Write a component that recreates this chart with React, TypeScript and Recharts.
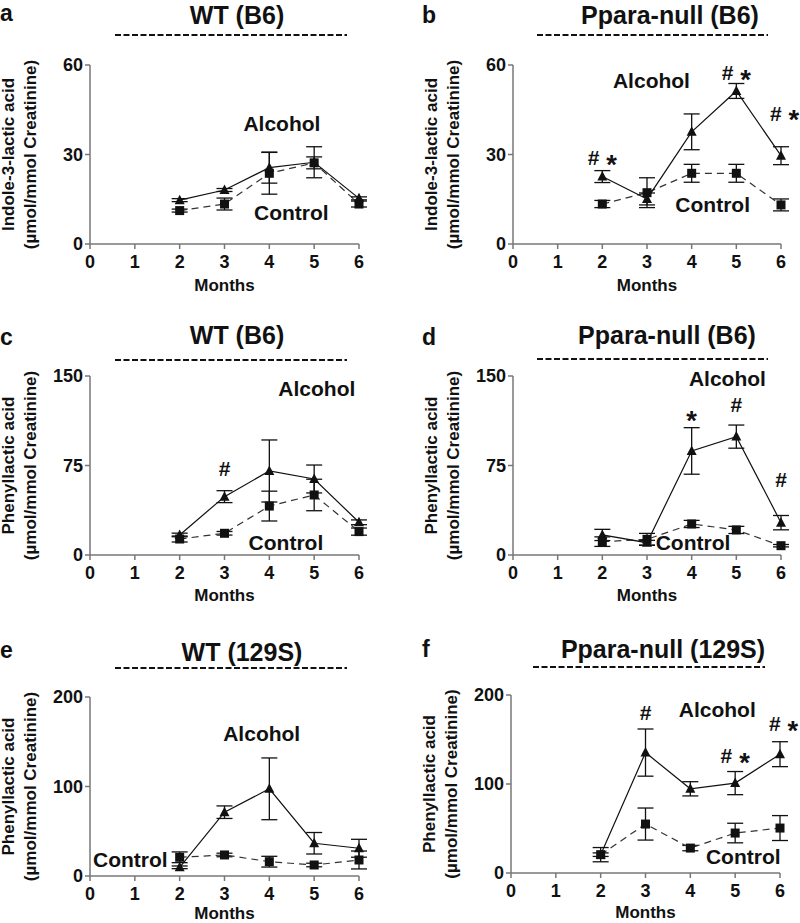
import { LineChart, Line, XAxis, YAxis, ErrorBar, ReferenceDot } from 'recharts';

const FONT = '"Liberation Sans", Arial, Helvetica, sans-serif';
const INK = '#111';
const AXIS = '#777';

const months = [2, 3, 4, 5, 6];
const monthTicks = [0, 1, 2, 3, 4, 5, 6];

// a - WT (B6), indole-3-lactic acid
const aAlcohol = [14.7, 18.1, 25.6, 27.4, 15.3];
const aAlcoholErr = [0.5, 0.5, 5.2, 5.2, 0.5];
const aControl = [11.2, 13.4, 23.7, 27.2, 13.4];
const aControlErr = [0.5, 2.0, 7.0, 2.0, 1.0];
const aMarks: Mark[] = [];
const aLabels: Mark[] = [{ m: 4.28, v: 40.5, text: 'Alcohol' }, { m: 4.49, v: 10.8, text: 'Control' }];

// b - Ppara-null (B6), indole-3-lactic acid
const bAlcohol = [22.6, 15.1, 37.6, 51.3, 29.6];
const bAlcoholErr = [2.0, 2.0, 6.0, 2.5, 3.0];
const bControl = [13.4, 17.2, 23.7, 23.7, 13.1];
const bControlErr = [1.2, 5.0, 3.0, 3.0, 2.0];
const bMarks: Mark[] = [{ m: 2, v: 29, text: '# *' }, { m: 5, v: 57.5, text: '# *' }, { m: 6.08, v: 44, text: '# *' }];
const bLabels: Mark[] = [{ m: 3.1, v: 55, text: 'Alcohol' }, { m: 4.47, v: 13.4, text: 'Control' }];

// c - WT (B6), phenyllactic acid
const cAlcohol = [16.8, 48.9, 70.4, 63.7, 27.4];
const cAlcoholErr = [1.5, 5.0, 26.0, 11.7, 2.0];
const cControl = [13.4, 18.2, 41.0, 50.3, 19.6];
const cControlErr = [2.5, 1.5, 12.5, 13.2, 3.0];
const cMarks: Mark[] = [{ m: 3, v: 72.6, text: '#' }];
const cLabels: Mark[] = [{ m: 5.06, v: 139.7, text: 'Alcohol' }, { m: 4.37, v: 10.6, text: 'Control' }];

// d - Ppara-null (B6), phenyllactic acid
const dAlcohol = [16.8, 10.3, 87.2, 99.2, 27.1];
const dAlcoholErr = [4.7, 2.0, 19.5, 9.7, 6.0];
const dControl = [11.2, 13.1, 26.0, 21.0, 7.8];
const dControlErr = [4.0, 5.0, 3.0, 3.0, 1.0];
const dMarks: Mark[] = [{ m: 4, v: 118.7, text: '*' }, { m: 5, v: 126.5, text: '#' }, { m: 6, v: 63.4, text: '#' }];
const dLabels: Mark[] = [{ m: 4.8, v: 148.6, text: 'Alcohol' }, { m: 4.03, v: 11.2, text: 'Control' }];

// e - WT (129S), phenyllactic acid
const eAlcohol = [9.7, 71.3, 97.4, 36.6, 31.0];
const eAlcoholErr = [1.5, 7.0, 34.5, 12.0, 10.0];
const eControl = [20.9, 23.5, 16.0, 12.3, 17.9];
const eControlErr = [6.0, 2.0, 6.0, 2.0, 10.0];
const eMarks: Mark[] = [];
const eLabels: Mark[] = [{ m: 3.83, v: 159.7, text: 'Alcohol' }, { m: 0.9, v: 18.7, text: 'Control' }];

// f - Ppara-null (129S), phenyllactic acid
const fAlcohol = [20.6, 135.3, 94.6, 101.0, 133.5];
const fAlcoholErr = [2.0, 26.5, 8.0, 13.0, 14.0];
const fControl = [20.6, 55.0, 28.0, 44.9, 50.5];
const fControlErr = [8.0, 18.0, 3.0, 11.0, 14.0];
const fMarks: Mark[] = [{ m: 3, v: 181, text: '#' }, { m: 5, v: 132.7, text: '# *' }, { m: 6.08, v: 168, text: '# *' }];
const fLabels: Mark[] = [{ m: 4.6, v: 183.9, text: 'Alcohol' }, { m: 5.18, v: 18.7, text: 'Control' }];

const indoleLabel = ['Indole-3-lactic acid', '(\u00b5mol/mmol Creatinine)'];
const phenylLabel = ['Phenyllactic acid', '(\u00b5mol/mmol Creatinine)'];

type Mark = { m: number; v: number; text: string };

const rows = (alc: number[], alcErr: number[], ctl: number[], ctlErr: number[]) =>
  months.map((m, i) => ({ month: m, alc: alc[i], alcErr: alcErr[i], ctl: ctl[i], ctlErr: ctlErr[i] }));

const panels = [
  {
    id: 'a', title: 'WT (B6)', left: 0, top: 0, height: 300, plot: [90, 359, 65, 244], monthsDy: 41,
    letter: [0, 13], titlePos: [237, 15], dash: [115, 347, 35],
    yLines: indoleLabel, yTicks: [0, 30, 60],
    data: rows(aAlcohol, aAlcoholErr, aControl, aControlErr), marks: aMarks, labels: aLabels,
  },
  {
    id: 'b', title: 'Ppara-null (B6)', left: 400, top: 0, height: 300, plot: [113, 381, 65, 244], monthsDy: 41,
    letter: [22, 15], titlePos: [270, 15], dash: [137, 368, 35],
    yLines: indoleLabel, yTicks: [0, 30, 60],
    data: rows(bAlcohol, bAlcoholErr, bControl, bControlErr), marks: bMarks, labels: bLabels,
  },
  {
    id: 'c', title: 'WT (B6)', left: 0, top: 300, height: 310, plot: [90, 359, 76, 255], monthsDy: 40,
    letter: [0, 37], titlePos: [237, 35], dash: [115, 347, 60],
    yLines: phenylLabel, yTicks: [0, 75, 150],
    data: rows(cAlcohol, cAlcoholErr, cControl, cControlErr), marks: cMarks, labels: cLabels,
  },
  {
    id: 'd', title: 'Ppara-null (B6)', left: 400, top: 300, height: 310, plot: [113, 381, 76, 255], monthsDy: 40,
    letter: [22, 37], titlePos: [267, 35], dash: [137, 368, 59],
    yLines: phenylLabel, yTicks: [0, 75, 150],
    data: rows(dAlcohol, dAlcoholErr, dControl, dControlErr), marks: dMarks, labels: dLabels,
  },
  {
    id: 'e', title: 'WT (129S)', left: 0, top: 610, height: 313, plot: [90, 359, 87, 266], monthsDy: 37,
    letter: [0, 40], titlePos: [242, 42], dash: [115, 347, 58],
    yLines: phenylLabel, yTicks: [0, 100, 200],
    data: rows(eAlcohol, eAlcoholErr, eControl, eControlErr), marks: eMarks, labels: eLabels,
  },
  {
    id: 'f', title: 'Ppara-null (129S)', left: 400, top: 610, height: 313, plot: [111, 380, 85, 263], monthsDy: 39,
    letter: [22, 39], titlePos: [263, 39], dash: [133, 365, 57],
    yLines: phenylLabel, yTicks: [0, 100, 200],
    data: rows(fAlcohol, fAlcoholErr, fControl, fControlErr), marks: fMarks, labels: fLabels,
  },
];

const Triangle = (p: any) => {
  const { cx, cy, index } = p;
  if (cx == null || cy == null) return <g key={`t${index}`} />;
  return <path key={`t${index}`} d={`M${cx},${cy - 5.5}L${cx + 5},${cy + 4}L${cx - 5},${cy + 4}Z`} fill={INK} />;
};

const Square = (p: any) => {
  const { cx, cy, index } = p;
  if (cx == null || cy == null) return <g key={`s${index}`} />;
  return <rect key={`s${index}`} x={cx - 4.5} y={cy - 4.5} width={9} height={9} fill={INK} />;
};

// text placed at a data position; asterisks are dropped to sit level with '#'
const TextMark = ({ cx, cy, text, size }: { cx: number; cy: number; text: string; size: number }) => {
  const parts = text.split(' ');
  return (
    <text x={cx} y={cy} textAnchor="middle" dominantBaseline="central" fill={INK}
      fontFamily={FONT} fontWeight="bold" fontSize={size}>
      {parts.map((t, i) =>
        t === '*' ? (
          <tspan key={i} dx={i > 0 ? 7 : 0} dy={size * 0.32} fontSize={size * 1.3}>*</tspan>
        ) : (
          <tspan key={i} dx={i > 0 ? 7 : 0}>{t}</tspan>
        )
      )}
    </text>
  );
};

const yLabel = (lines: string[]) => (props: any) => {
  const vb = props.viewBox || {};
  const right = vb.x + vb.width;
  const cy = vb.y + vb.height / 2;
  return (
    <g>
      {lines.map((l, i) => {
        const x = right - 82 + i * 22;
        return (
          <text key={i} x={x} y={cy} transform={`rotate(-90 ${x} ${cy})`} textAnchor="middle"
            dominantBaseline="central" fill={INK} fontFamily={FONT} fontWeight="bold" fontSize={17}>
            {l}
          </text>
        );
      })}
    </g>
  );
};

const xLabel = (dy: number) => (props: any) => {
  const vb = props.viewBox || {};
  return (
    <text x={vb.x + vb.width / 2} y={vb.y + dy} textAnchor="middle" dominantBaseline="central"
      fill={INK} fontFamily={FONT} fontWeight="bold" fontSize={17}>
      Months
    </text>
  );
};

const tickStyle = { fill: INK, fontFamily: FONT, fontWeight: 'bold', fontSize: 18 } as any;

function Panel({ p }: { p: (typeof panels)[number] }) {
  const [pl, pr, pt, pb] = p.plot;
  const yAxisW = 40;
  const xAxisH = 46;
  const yMax = p.yTicks[p.yTicks.length - 1];
  return (
    <div style={{ position: 'absolute', left: p.left, top: p.top, width: 400, height: p.height }}>
      <LineChart
        width={400}
        height={p.height}
        data={p.data}
        margin={{ top: pt, bottom: p.height - pb - xAxisH, left: pl - yAxisW, right: 400 - pr }}
      >
        <XAxis
          dataKey="month"
          type="number"
          domain={[0, 6]}
          ticks={monthTicks}
          height={xAxisH}
          stroke={AXIS}
          strokeWidth={1.5}
          tickSize={5}
          tickMargin={6}
          tick={tickStyle}
          label={{ content: xLabel(p.monthsDy) }}
        />
        <YAxis
          type="number"
          domain={[0, yMax]}
          ticks={p.yTicks}
          width={yAxisW}
          stroke={AXIS}
          strokeWidth={1.5}
          tickSize={5}
          tickMargin={2}
          tick={tickStyle}
          label={{ content: yLabel(p.yLines) }}
        />
        <Line
          dataKey="ctl"
          stroke="#333"
          strokeWidth={1.2}
          strokeDasharray="7 5"
          dot={Square}
          activeDot={false}
          isAnimationActive={false}
        >
          <ErrorBar dataKey="ctlErr" width={8} stroke={INK} strokeWidth={1.3} direction="y" isAnimationActive={false} />
        </Line>
        <Line
          dataKey="alc"
          stroke={INK}
          strokeWidth={1.2}
          dot={Triangle}
          activeDot={false}
          isAnimationActive={false}
        >
          <ErrorBar dataKey="alcErr" width={8} stroke={INK} strokeWidth={1.3} direction="y" isAnimationActive={false} />
        </Line>
        {p.labels.map((m, i) => (
          <ReferenceDot key={`l${i}`} x={m.m} y={m.v} r={0} ifOverflow="visible"
            shape={(sp: any) => <TextMark cx={sp.cx} cy={sp.cy} text={m.text} size={21} />} />
        ))}
        {p.marks.map((m, i) => (
          <ReferenceDot key={`m${i}`} x={m.m} y={m.v} r={0} ifOverflow="visible"
            shape={(sp: any) => <TextMark cx={sp.cx} cy={sp.cy} text={m.text} size={21} />} />
        ))}
      </LineChart>
      <svg width={400} height={p.height} style={{ position: 'absolute', left: 0, top: 0, pointerEvents: 'none' }}>
        <text x={p.letter[0]} y={p.letter[1]} dominantBaseline="central" fill={INK}
          fontFamily={FONT} fontWeight="bold" fontSize={23}>{p.id}</text>
        <text x={p.titlePos[0]} y={p.titlePos[1]} textAnchor="middle" dominantBaseline="central" fill={INK}
          fontFamily={FONT} fontWeight="bold" fontSize={25}>{p.title}</text>
        <line x1={p.dash[0]} x2={p.dash[1]} y1={p.dash[2]} y2={p.dash[2]} stroke={INK}
          strokeWidth={2} strokeDasharray="6 2.5" />
      </svg>
    </div>
  );
}

export default function App() {
  return (
    <div style={{ position: 'absolute', left: 0, top: 0, width: 800, height: 923, background: '#fff' }}>
      {panels.map((p) => (
        <Panel key={p.id} p={p} />
      ))}
    </div>
  );
}
